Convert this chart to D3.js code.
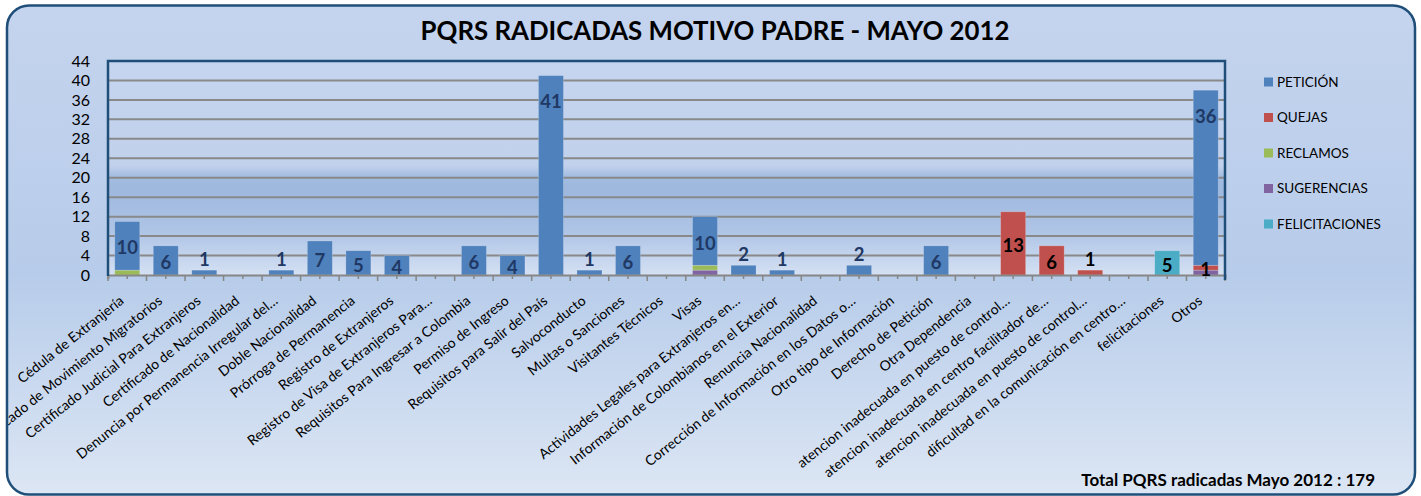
<!DOCTYPE html>
<html><head><meta charset="utf-8">
<script src="https://cdn.jsdelivr.net/npm/d3@7"></script>
<style>html,body{margin:0;padding:0;background:#fff;} svg{display:block;font-family:Lato,'Open Sans',sans-serif;}</style>
</head><body><svg id="c" width="1421" height="496"></svg>
<script>
const categories = [
  "Cédula de Extranjería",
  "Certificado de Movimiento Migratorios",
  "Certificado Judicial Para Extranjeros",
  "Certificado de Nacionalidad",
  "Denuncia por Permanencia Irregular del…",
  "Doble Nacionalidad",
  "Prórroga de Permanencia",
  "Registro de Extranjeros",
  "Registro de Visa de Extranjeros Para…",
  "Requisitos Para Ingresar a Colombia",
  "Permiso de Ingreso",
  "Requisitos para Salir del País",
  "Salvoconducto",
  "Multas o Sanciones",
  "Visitantes Técnicos",
  "Visas",
  "Actividades Legales para Extranjeros en…",
  "Información de Colombianos en el Exterior",
  "Renuncia Nacionalidad",
  "Corrección de Información en los Datos o…",
  "Otro tipo de Información",
  "Derecho de Petición",
  "Otra Dependencia",
  "atencion inadecuada en puesto de control…",
  "atencion inadecuada en centro facilitador de…",
  "atencion inadecuada en puesto de control…",
  "dificultad en la comunicación en centro…",
  "felicitaciones",
  "Otros"
];
const peticion       = [10,6,1,0,1,7,5,4,0,6,4,41,1,6,0,10,2,1,0,2,0,6,0,0,0,0,0,0,36];
const quejas         = [0,0,0,0,0,0,0,0,0,0,0,0,0,0,0,0,0,0,0,0,0,0,0,13,6,1,0,0,1];
const reclamos       = [1,0,0,0,0,0,0,0,0,0,0,0,0,0,0,1,0,0,0,0,0,0,0,0,0,0,0,0,0];
const sugerencias    = [0,0,0,0,0,0,0,0,0,0,0,0,0,0,0,1,0,0,0,0,0,0,0,0,0,0,0,0,1];
const felicitaciones = [0,0,0,0,0,0,0,0,0,0,0,0,0,0,0,0,0,0,0,0,0,0,0,0,0,0,0,5,0];
const seriesNames = ["PETICIÓN","QUEJAS","RECLAMOS","SUGERENCIAS","FELICITACIONES"];
const yTicks = [0,4,8,12,16,20,24,28,32,36,40,44];
const titleText = "PQRS RADICADAS MOTIVO PADRE - MAYO 2012";
const totalText = "Total PQRS radicadas Mayo 2012 : 179";

// ---- layout / style ----
const plot = {left:108, right:1225, top:61, bottom:275};
const colors = {"PETICIÓN":"#4F81BD","QUEJAS":"#C0504D","RECLAMOS":"#9BBB59","SUGERENCIAS":"#8064A2","FELICITACIONES":"#4BACC6"};
const labelColors = {"PETICIÓN":"#1F3864","QUEJAS":"#000","FELICITACIONES":"#000"};
const seriesValues = {"PETICIÓN":peticion,"QUEJAS":quejas,"RECLAMOS":reclamos,"SUGERENCIAS":sugerencias,"FELICITACIONES":felicitaciones};
const stackOrder = ["FELICITACIONES","SUGERENCIAS","RECLAMOS","QUEJAS","PETICIÓN"];

const svg = d3.select("#c");
const defs = svg.append("defs");

const bgGrad = defs.append("linearGradient").attr("id","bg").attr("x1",0).attr("y1",0).attr("x2",0).attr("y2",1);
[[0,"#C5D4EE"],[0.55,"#B7CCEA"],[1,"#DCE6F4"]].forEach(s=>bgGrad.append("stop").attr("offset",s[0]).attr("stop-color",s[1]));
const plGrad = defs.append("linearGradient").attr("id","pl").attr("x1",0).attr("y1",0).attr("x2",0).attr("y2",1);
[[0,"#C5D5EF"],[0.49,"#C1D1EC"],[0.54,"#A3BCE0"],[0.6,"#9EB8DE"],[0.8,"#AFC5E6"],[1,"#D4E0F3"]].forEach(s=>plGrad.append("stop").attr("offset",s[0]).attr("stop-color",s[1]));

const frame = {x:7, y:5.5, w:1408, h:489, r:22};
defs.append("clipPath").attr("id","frameClip").append("rect")
  .attr("x",frame.x).attr("y",frame.y).attr("width",frame.w).attr("height",frame.h).attr("rx",frame.r);

svg.append("rect").attr("x",frame.x).attr("y",frame.y).attr("width",frame.w).attr("height",frame.h)
  .attr("rx",frame.r).attr("fill","url(#bg)");

const g = svg.append("g").attr("clip-path","url(#frameClip)");

g.append("rect").attr("x",plot.left).attr("y",plot.top).attr("width",plot.right-plot.left).attr("height",plot.bottom-plot.top).attr("fill","url(#pl)");

const x = d3.scaleBand().domain(d3.range(categories.length)).range([plot.left,plot.right]).paddingInner(0.35).paddingOuter(0.175);
const y = d3.scaleLinear().domain([0,44]).range([plot.bottom,plot.top]);

g.append("g").selectAll("line").data(yTicks.filter(t=>t>0)).join("line")
  .attr("x1",plot.left).attr("x2",plot.right).attr("y1",d=>y(d)).attr("y2",d=>y(d))
  .attr("stroke","#898989").attr("stroke-width",2);

const rows = categories.map((c,i)=>{const r={i}; seriesNames.forEach(s=>r[s]=seriesValues[s][i]); return r;});
const stacked = d3.stack().keys(stackOrder)(rows);
const totals = rows.map(r=>d3.sum(seriesNames,s=>r[s]));

const bars = g.append("g");
stacked.forEach(layer=>{
  bars.append("g").attr("fill",colors[layer.key]).selectAll("rect").data(layer.filter(d=>d[1]-d[0]>0)).join("rect")
    .attr("x",d=>x(d.data.i)).attr("width",x.bandwidth())
    .attr("y",d=>y(d[1])).attr("height",d=>y(d[0])-y(d[1]))
    .attr("stroke","rgba(255,255,255,0.25)").attr("stroke-width",0.8);
});

const xAxis = d3.axisBottom(x).tickSize(4).tickFormat(i=>categories[i]);
const xg = g.append("g").attr("transform",`translate(0,${plot.bottom})`).call(xAxis);
xg.select(".domain").attr("stroke","#868686").attr("stroke-width",2);
xg.selectAll(".tick line").attr("stroke","#868686").attr("stroke-width",1.5);
xg.selectAll(".tick text").attr("fill","#000").attr("font-size","14px").attr("font-family","Lato")
  .attr("text-anchor","end").attr("x",0).attr("y",0).attr("dy",0)
  .attr("transform","translate(-2.5,27.5) rotate(-38.5)");
xg.append("g").selectAll("line").data(d3.range(categories.length+1)).join("line")
  .attr("x1",i=>plot.left+i*x.step()).attr("x2",i=>plot.left+i*x.step())
  .attr("y1",0).attr("y2",6).attr("stroke","#868686").attr("stroke-width",1.5);

const yAxis = d3.axisLeft(y).tickValues(yTicks).tickSize(0).tickPadding(18);
const yg = g.append("g").attr("transform",`translate(${plot.left},0)`).call(yAxis);
yg.select(".domain").remove();
yg.selectAll("text").attr("font-size","16px").attr("font-family","Lato").attr("fill","#000");

g.append("path").attr("d",`M${plot.left},${plot.bottom+1}V${plot.top}H${plot.right}V${plot.bottom+5}`)
  .attr("fill","none").attr("stroke","#1F4E79").attr("stroke-width",2.5);

const labG = g.append("g").attr("font-weight","bold").attr("font-size","18.5px").attr("font-family","Lato").attr("text-anchor","middle");
stacked.filter(l=>labelColors[l.key]).forEach(layer=>{
  layer.forEach(d=>{
    const v = d[1]-d[0]; if(v<=0) return;
    const i = d.data.i;
    const y0 = y(d[0]), y1 = y(d[1]), h = y0-y1;
    const isTop = d[1]===totals[i];
    let ly;
    if (h>150) ly = y1+26;
    else if (h<12 && isTop) ly = y1-11;
    else ly = (y0+y1)/2+2;
    labG.append("text").attr("x",x(i)+x.bandwidth()/2).attr("y",ly).attr("dy","0.36em")
      .attr("fill",labelColors[layer.key]).text(v);
  });
});

g.append("text").attr("x",715).attr("y",40).attr("text-anchor","middle").attr("font-weight","bold")
  .attr("font-size","25.8px").attr("fill","#000").text(titleText);

const lg = g.append("g").selectAll("g").data(seriesNames).join("g")
  .attr("transform",(d,i)=>`translate(1264,${82+i*35.5})`);
lg.append("rect").attr("x",0).attr("y",-4.5).attr("width",9).attr("height",9).attr("fill",d=>colors[d]);
lg.append("text").attr("x",13).attr("y",0).attr("dy","0.36em").attr("font-size","13.5px").attr("fill","#000").text(d=>d);

g.append("text").attr("x",1375).attr("y",486).attr("text-anchor","end").attr("font-weight","bold")
  .attr("font-size","17px").attr("fill","#000").text(totalText);

svg.append("rect").attr("x",frame.x).attr("y",frame.y).attr("width",frame.w).attr("height",frame.h)
  .attr("rx",frame.r).attr("fill","none").attr("stroke","#1F4E79").attr("stroke-width",2.5);
</script></body></html>
